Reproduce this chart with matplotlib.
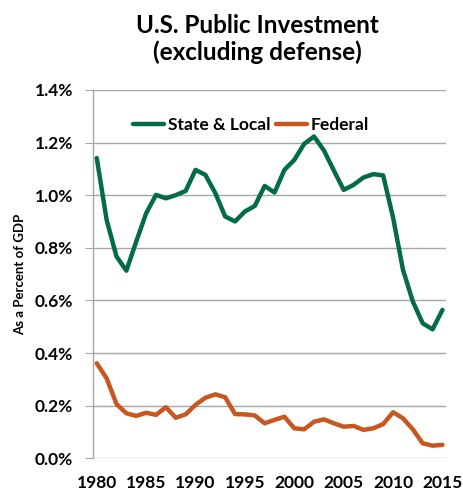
import matplotlib
matplotlib.use("Agg")
import matplotlib.pyplot as plt
from matplotlib.ticker import FuncFormatter, MultipleLocator

plt.rcParams['font.family'] = ['Lato', 'DejaVu Sans']
plt.rcParams['font.weight'] = 'bold'

years = list(range(1980, 2016))
state_local = [1.141, 0.906, 0.767, 0.713, 0.824, 0.931, 1.001, 0.988, 1.000, 1.016,
               1.096, 1.077, 1.008, 0.919, 0.900, 0.938, 0.959, 1.035, 1.010, 1.096,
               1.134, 1.195, 1.223, 1.170, 1.094, 1.020, 1.039, 1.067, 1.080, 1.075,
               0.915, 0.717, 0.596, 0.513, 0.490, 0.564]
federal = [0.361, 0.304, 0.206, 0.171, 0.161, 0.173, 0.165, 0.194, 0.154, 0.167,
           0.203, 0.230, 0.243, 0.232, 0.168, 0.167, 0.163, 0.133, 0.146, 0.158,
           0.114, 0.110, 0.139, 0.148, 0.133, 0.120, 0.123, 0.108, 0.114, 0.130,
           0.175, 0.152, 0.110, 0.057, 0.048, 0.051]
series_names = ["State & Local", "Federal"]
title = "U.S. Public Investment\n(excluding defense)"
ylabel = "As a Percent of GDP"

fig = plt.figure(figsize=(4.64, 4.94), dpi=100)
ax = fig.add_axes([0.2, 0.0723, 0.761, 0.7457])

ax.plot(years, state_local, color='#046B48', lw=3.2, label=series_names[0], solid_capstyle='round')
ax.plot(years, federal, color='#C8561F', lw=3.2, label=series_names[1], solid_capstyle='round')

ax.set_xlim(1979.6, 2015.35)
ax.set_ylim(0, 1.4)
ax.yaxis.set_major_locator(MultipleLocator(0.2))
ax.yaxis.set_major_formatter(FuncFormatter(lambda v, p: f"{v:.1f}%"))
ax.set_xticks(list(range(1980, 2016, 5)))
ax.grid(axis='y', color='#A6A6A6', lw=1.0)
ax.set_axisbelow(True)
for s in ['top', 'right', 'bottom']:
    ax.spines[s].set_visible(False)
ax.spines['left'].set_color('#A6A6A6')
ax.spines['left'].set_linewidth(1.0)
ax.tick_params(axis='y', length=6, color='#A6A6A6', labelsize=12.5, pad=8)
ax.tick_params(axis='x', length=0, labelsize=12.5, pad=12)
for lab in ax.get_xticklabels() + ax.get_yticklabels():
    lab.set_fontweight('bold')

ax.set_ylabel(ylabel, fontsize=9.5, fontweight='bold')
ax.yaxis.set_label_coords(-0.19, 0.5)

fig.text(0.555, 0.972, title, ha='center', va='top', fontsize=17.5, fontweight='bold', linespacing=1.2)

leg = ax.legend(loc='upper left', bbox_to_anchor=(0.07, 0.97), ncol=2, frameon=False,
                handlelength=1.8, handletextpad=0.2, columnspacing=0.3,
                prop={'weight': 'bold', 'size': 12.5})

fig.savefig('out.png', dpi=100)
